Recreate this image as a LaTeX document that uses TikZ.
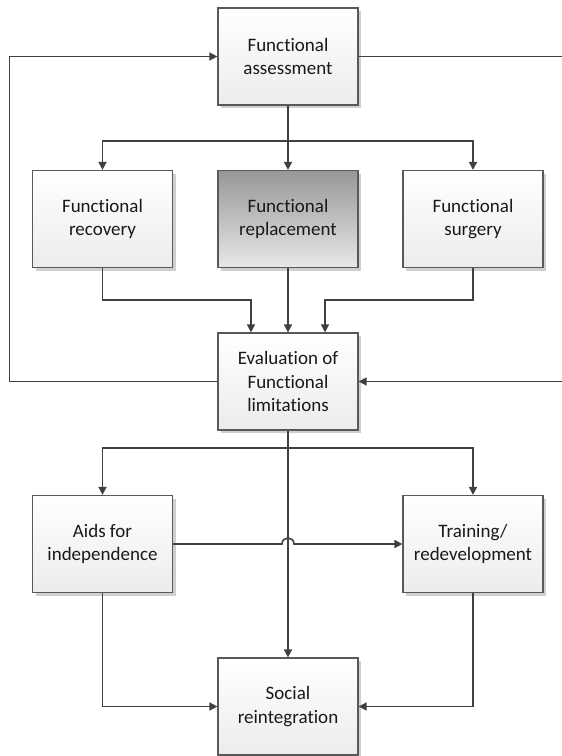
\documentclass[tikz,border=0pt]{standalone}
\usepackage{fontspec}
\setmainfont{Carlito}[Ligatures={NoCommon,NoRare,NoDiscretionary}]
\usetikzlibrary{arrows.meta,shadows}
\definecolor{linec}{HTML}{404040}
\definecolor{boxline}{HTML}{595959}
\definecolor{boxbot}{HTML}{ECECEC}
\definecolor{darktop}{HTML}{979797}
\definecolor{darkbot}{HTML}{E8E8E8}
\definecolor{shadowc}{HTML}{CFCFCF}
\tikzset{
  box/.style={draw=boxline, line width=1.2pt, minimum width=140pt, minimum height=97pt,
    inner sep=2pt, align=center, top color=white, bottom color=boxbot,
    font=\fontsize{19}{23.5}\selectfont, text=black!90,
    drop shadow={shadow xshift=3pt, shadow yshift=-3pt, fill=shadowc, opacity=1}},
  darkbox/.style={box, top color=darktop, bottom color=darkbot},
  conn/.style={draw=linec, line width=1.6pt},
  arr/.style={conn, -{Triangle[length=8pt,width=8pt]}}
}
\begin{document}
\begin{tikzpicture}[x=1pt,y=-1pt]
\useasboundingbox (0,0) rectangle (562,756);
\node[box] (assess) at (288,56.5) {Functional\\assessment};
\node[box] (rec) at (102.5,219) {Functional\\recovery};
\node[darkbox] (repl) at (288,219) {Functional\\replacement};
\node[box] (surg) at (473,219) {Functional\\surgery};
\node[box] (eval) at (288,381.5) {Evaluation of\\Functional\\limitations};
\node[box] (aids) at (102.5,544) {Aids for\\independence};
\node[box] (train) at (473,544) {Training/\\redevelopment};
\node[box] (soc) at (288,706.5) {Social\\reintegration};

\coordinate (L) at (9.5,56.5);
\coordinate (R1) at (562,56.5);
\coordinate (R2) at (562,381.5);
\coordinate (B1) at (288,141);
\coordinate (B2) at (288,448);
\coordinate (e1) at ([xshift=-37pt]eval.north);
\coordinate (e3) at ([xshift=37pt]eval.north);
\coordinate (h1) at (282,544);
\coordinate (h2) at (294,544);

% feedback loops
\draw[arr] (eval.west) -| (L) -- (assess.west);
\draw[conn] (assess.east) -- (R1);
\draw[arr] (R2) -- (eval.east);

% from assessment
\draw[arr] (assess.south) -- (repl.north);
\draw[arr] (B1) -| (rec.north);
\draw[arr] (B1) -| (surg.north);

% into evaluation
\draw[arr] (rec.south) -- ++(0,32) -| (e1);
\draw[arr] (surg.south) -- ++(0,32) -| (e3);
\draw[arr] (repl.south) -- (eval.north);

% from evaluation
\draw[arr] (eval.south) -- (soc.north);
\draw[arr] (B2) -| (aids.north);
\draw[arr] (B2) -| (train.north);

% aids to training with hop
\draw[arr] (aids.east) -- (h1) .. controls (282,536) and (294,536) .. (h2) -- (train.west);

% into social reintegration
\draw[arr] (aids.south) |- (soc.west);
\draw[arr] (train.south) |- (soc.east);
\end{tikzpicture}
\end{document}
